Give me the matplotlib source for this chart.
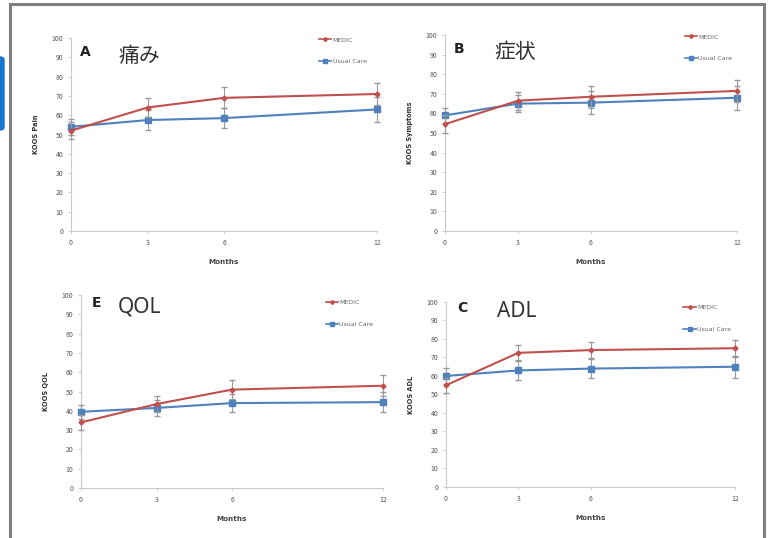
import matplotlib
matplotlib.use("Agg")
import matplotlib.pyplot as plt
from matplotlib.lines import Line2D
from matplotlib.patches import FancyBboxPatch

plt.rcParams['font.family'] = ['Noto Sans CJK JP', 'DejaVu Sans']

months = [0, 3, 6, 12]
series_names = ["MEDIC", "Usual Care"]

# panel values (mean, error)
pain_medic = [52, 64, 69, 71]
pain_medic_err = [4.5, 5, 5.5, 5.5]
pain_usual = [54, 57.5, 58.5, 63]
pain_usual_err = [4, 5, 5, 6.5]

sym_medic = [54.5, 66.5, 68.5, 71.5]
sym_medic_err = [4.5, 4.5, 5.5, 5.5]
sym_usual = [59, 65, 65.5, 68]
sym_usual_err = [4, 4.5, 6, 6]

qol_medic = [34, 43.5, 51, 53]
qol_medic_err = [4, 4, 5, 5.5]
qol_usual = [39.5, 41.5, 44, 44.5]
qol_usual_err = [3.5, 4, 4.5, 5]

adl_medic = [55, 72.5, 74, 75]
adl_medic_err = [4, 4, 4.5, 4.5]
adl_usual = [60, 63, 64, 65]
adl_usual_err = [4.5, 5, 5, 6]

# letter, title, ylabel, data, axes rect, letter xy, title xy, legend anchor
panels = [
    ("A", "痛み", "KOOS Pain", pain_medic, pain_medic_err, pain_usual, pain_usual_err,
     [0.0919, 0.5706, 0.3959, 0.3587], (0.03, 0.93), (0.155, 0.905), (0.80, 1.02)),
    ("B", "症状", "KOOS Symptoms", sym_medic, sym_medic_err, sym_usual, sym_usual_err,
     [0.5757, 0.5706, 0.3777, 0.3643], (0.03, 0.93), (0.17, 0.91), (0.81, 1.02)),
    ("E", "QOL", "KOOS QOL", qol_medic, qol_medic_err, qol_usual, qol_usual_err,
     [0.1048, 0.0929, 0.3907, 0.3587], (0.036, 0.96), (0.12, 0.94), (0.80, 0.99)),
    ("C", "ADL", "KOOS ADL", adl_medic, adl_medic_err, adl_usual, adl_usual_err,
     [0.5770, 0.0948, 0.3739, 0.3439], (0.04, 0.97), (0.176, 0.95), (0.81, 1.0)),
]

red = '#c0504d'
blue = '#4f81bd'

fig = plt.figure(figsize=(7.73, 5.38), dpi=100)

for letter, title, ylab, m, me, u, ue, pos, lxy, txy, lega in panels:
    ax = fig.add_axes(pos)
    ax.errorbar(months, u, yerr=ue, color=blue, marker='s', markersize=5, lw=1.5,
                ecolor='#999999', elinewidth=0.8, capsize=2,
                clip_on=False, zorder=3)
    ax.errorbar(months, m, yerr=me, color=red, marker='D', markersize=2.5, lw=1.5,
                ecolor='#999999', elinewidth=0.8, capsize=2,
                clip_on=False, zorder=4)
    ax.set_xlim(0, 12)
    ax.set_ylim(0, 100)
    ax.set_xticks(months)
    ax.set_yticks(range(0, 101, 10))
    for s in ['top', 'right']:
        ax.spines[s].set_visible(False)
    for s in ['left', 'bottom']:
        ax.spines[s].set_color('#c8c8c8')
        ax.spines[s].set_linewidth(0.8)
    ax.tick_params(labelsize=5, colors='#c8c8c8', labelcolor='#555555', length=2, width=0.6)
    ax.set_ylabel(ylab, fontsize=4.8, fontweight='bold', color='#333333', labelpad=9,
                  family=['DejaVu Sans'])
    ax.set_xlabel("Months", fontsize=5.2, fontweight='bold', color='#444444', labelpad=9,
                  family=['DejaVu Sans'])
    ax.text(lxy[0], lxy[1], letter, transform=ax.transAxes, fontsize=10, fontweight='bold',
            color='#222222', va='center', ha='left', family=['DejaVu Sans'])
    ax.text(txy[0], txy[1], title, transform=ax.transAxes, fontsize=15, color='#333333',
            va='center', ha='left', family=['Noto Sans', 'Noto Sans CJK JP'])
    handles = [Line2D([], [], color=red, marker='D', markersize=2, lw=1.2),
               Line2D([], [], color=blue, marker='s', markersize=3.5, lw=1.2)]
    leg = ax.legend(handles, series_names, loc='upper left', bbox_to_anchor=lega,
                    frameon=False, fontsize=4.5, handlelength=2.0, handletextpad=0.2,
                    labelspacing=2.6, borderpad=0)
    for t in leg.get_texts():
        t.set_color('#666666')
        t.set_family(['DejaVu Sans'])

# outer frame
frame_kw = dict(color='#808080', lw=2.2, transform=fig.transFigure)
fig.add_artist(Line2D([10 / 773, 10 / 773], [0, 1 - 4 / 538], **frame_kw))
fig.add_artist(Line2D([10 / 773, 764 / 773], [1 - 4 / 538, 1 - 4 / 538], **frame_kw))
fig.add_artist(Line2D([764 / 773, 764 / 773], [0, 1 - 4 / 538], **frame_kw))
fig.add_artist(FancyBboxPatch((-6 / 773, 1 - 130 / 538), 10 / 773, 73 / 538,
                              boxstyle='round,pad=0,rounding_size=0.005',
                              transform=fig.transFigure, color='#1a75cf'))

fig.savefig('out.png', dpi=100)
